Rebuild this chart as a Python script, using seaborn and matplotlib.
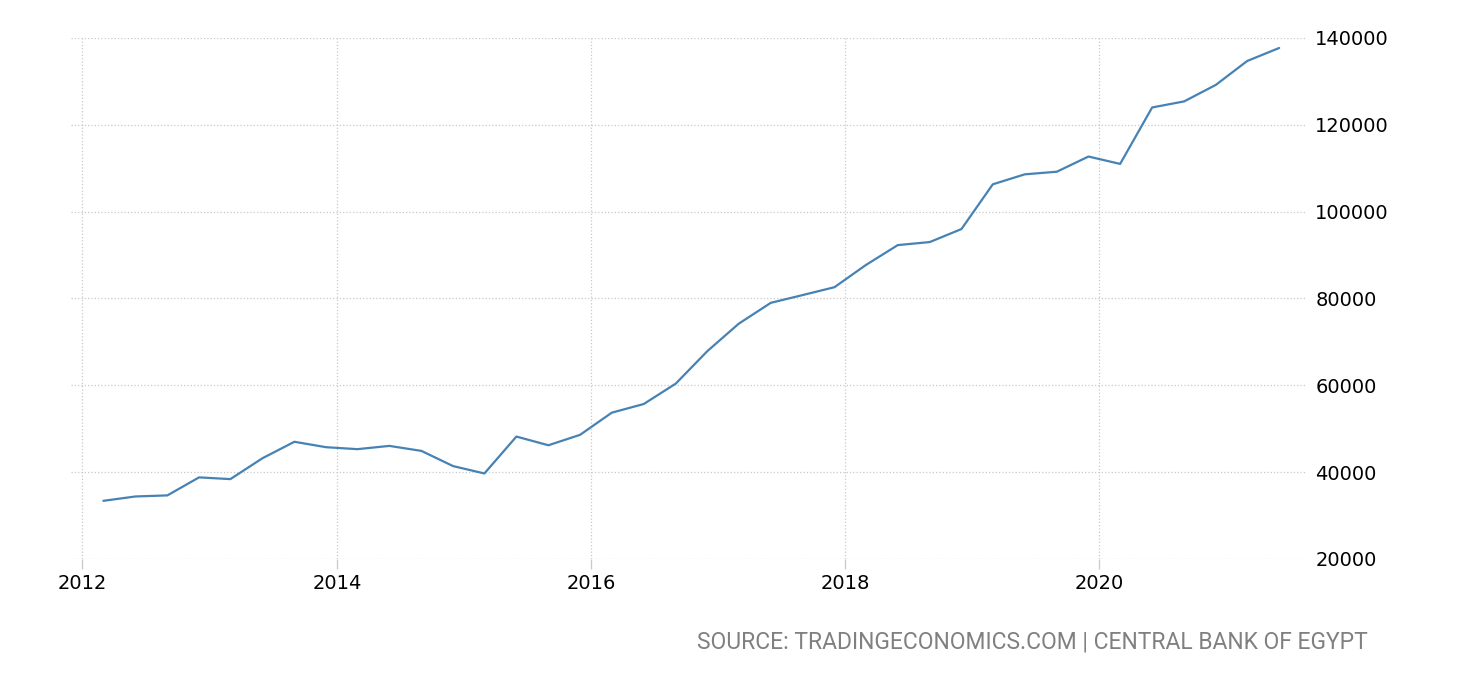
import pandas as pd
import matplotlib.pyplot as plt
import matplotlib.dates as mdates
import seaborn as sns

# quarterly observations, Mar 2012 .. Jun 2021 (USD million)
quarters = pd.date_range('2012-03-01', '2021-06-01', freq='3MS')
values = [
    33400, 34400, 34650, 38800,
    38400, 43200, 47000, 45750,
    45300, 46050, 44900, 41400,
    39700, 48200, 46200, 48600,
    53700, 55700, 60400, 67900,
    74200, 79000, 80800, 82600,
    87700, 92300, 93000, 96000,
    106300, 108600, 109200, 112700,
    111000, 124000, 125400, 129200,
    134700, 137700,
]
year_ticks = [2012, 2014, 2016, 2018, 2020]
value_ticks = [20000, 40000, 60000, 80000, 100000, 120000, 140000]
SOURCE = 'SOURCE: TRADINGECONOMICS.COM | CENTRAL BANK OF EGYPT'

df = pd.DataFrame({'date': quarters, 'value': values})

sns.set_theme(style='white')
plt.rcParams['font.family'] = ['DejaVu Sans']

fig = plt.figure(figsize=(14.6, 6.8), dpi=100)
ax = fig.add_axes([71 / 1460, 1 - 559 / 680, (1307 - 71) / 1460, (559 - 38) / 680])

sns.lineplot(data=df, x='date', y='value', ax=ax, color='#4682b4', linewidth=1.6)

ax.set_xlim(pd.Timestamp('2011-11-29'), pd.Timestamp('2021-08-20'))
ax.set_ylim(20000, 140000)
ax.set_xticks([pd.Timestamp(f'{y}-01-01') for y in year_ticks])
ax.xaxis.set_major_formatter(mdates.DateFormatter('%Y'))
ax.set_yticks(value_ticks)
ax.set_yticklabels([str(v) for v in value_ticks])

ax.yaxis.tick_right()
ax.tick_params(axis='y', length=0, pad=6, labelsize=14, colors='black')
ax.tick_params(axis='x', bottom=True, length=7, width=1, color='#cccccc', pad=4,
               labelsize=14, labelcolor='black')

ax.grid(True, linestyle=':', color='#c8c8c8', linewidth=0.9)
for s in ax.spines.values():
    s.set_visible(False)
ax.set_xlabel('')
ax.set_ylabel('')

fig.text(1368 / 1460, 1 - 642 / 680, SOURCE, ha='right', va='center',
         color='#808080', fontsize=16.5, family=['Roboto', 'DejaVu Sans'])

fig.savefig('out.png', dpi=100)
